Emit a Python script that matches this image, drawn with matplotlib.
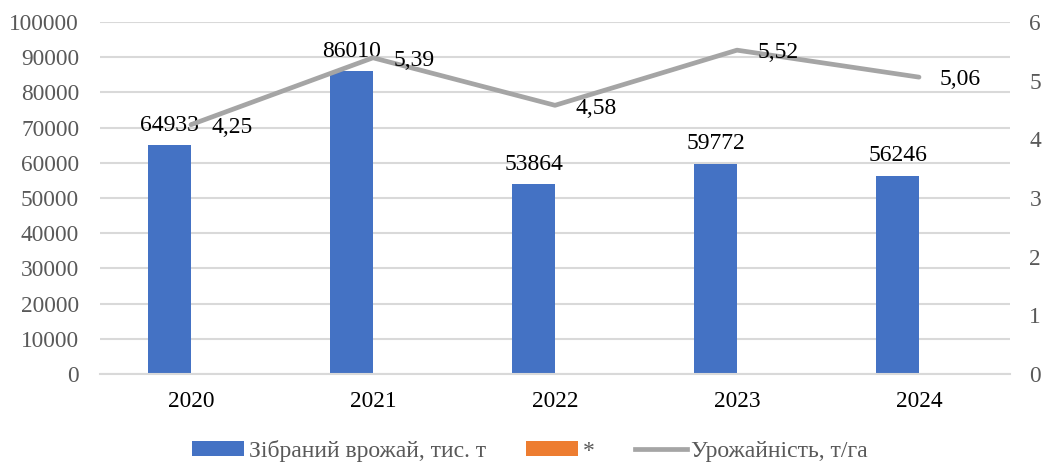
import matplotlib
matplotlib.use("Agg")
import matplotlib.pyplot as plt
from matplotlib.patches import Patch
from matplotlib.lines import Line2D
import numpy as np

years = ["2020", "2021", "2022", "2023", "2024"]
harvest = [64933, 86010, 53864, 59772, 56246]
yield_t = [4.25, 5.39, 4.58, 5.52, 5.06]
yield_labels = ["4,25", "5,39", "4,58", "5,52", "5,06"]
left_ticks = list(range(0, 100001, 10000))
right_ticks = list(range(0, 7))

plt.rcParams['font.family'] = ['Liberation Serif', 'DejaVu Serif']

fig = plt.figure(figsize=(10.44, 4.66), dpi=100)
ax = fig.add_axes([100/1044, 92/466, 910/1044, 352/466])
ax2 = ax.twinx()

x = np.arange(len(years))
w = 0.236
bars = ax.bar(x - w/2, harvest, width=w, color="#4472c4", zorder=2)
ax.set_xlim(-0.5, len(years) - 0.5)
ax.set_ylim(0, 100000)
ax.set_yticks(left_ticks)
ax.set_yticklabels([str(t) for t in left_ticks])
ax.grid(axis='y', color="#d9d9d9", lw=1.5, zorder=0)
ax.set_axisbelow(True)
ax.set_xticks(x)
ax.set_xticklabels(years)
for s in ["top", "left", "right"]:
    ax.spines[s].set_visible(False)
ax.spines["bottom"].set_color("#d9d9d9")
ax.spines["bottom"].set_linewidth(1.5)
ax.tick_params(axis='y', length=0, pad=15, labelsize=16.8, labelcolor="#595959")
ax.tick_params(axis='x', length=0, pad=12, labelsize=16.8, labelcolor="black")

for xi, v in zip(x, harvest):
    ax.annotate(str(v), (xi - w/2, v), xytext=(0, 7), textcoords="offset points",
                ha="center", va="bottom", fontsize=17, color="black")

ax2.plot(x, yield_t, color="#a5a5a5", lw=3.4, zorder=3, solid_capstyle="round")
ax2.set_ylim(0, 6)
ax2.set_yticks(right_ticks)
ax2.set_yticklabels([str(t) for t in right_ticks])
for s in ["top", "left", "right", "bottom"]:
    ax2.spines[s].set_visible(False)
ax2.tick_params(axis='y', length=0, pad=14, labelsize=16.8, labelcolor="#595959")
for xi, v, lab in zip(x, yield_t, yield_labels):
    ax2.annotate(lab, (xi, v), xytext=(15, -2), textcoords="offset points",
                 ha="left", va="center", fontsize=17, color="black")

handles = [Patch(facecolor="#4472c4"), Patch(facecolor="#ed7d31"),
           Line2D([0], [0], color="#a5a5a5", lw=3.4)]
labels = ["Зібраний врожай, тис. т", "*", "Урожайність, т/га"]
leg = fig.legend(handles, labels, loc="center", bbox_to_anchor=(530/1044, 15/466),
                 ncol=3, frameon=False, fontsize=17, handlelength=2.2,
                 handleheight=0.6, handletextpad=0.2, columnspacing=1.7)
for t in leg.get_texts():
    t.set_color("#595959")

fig.savefig("out.png", dpi=100)
